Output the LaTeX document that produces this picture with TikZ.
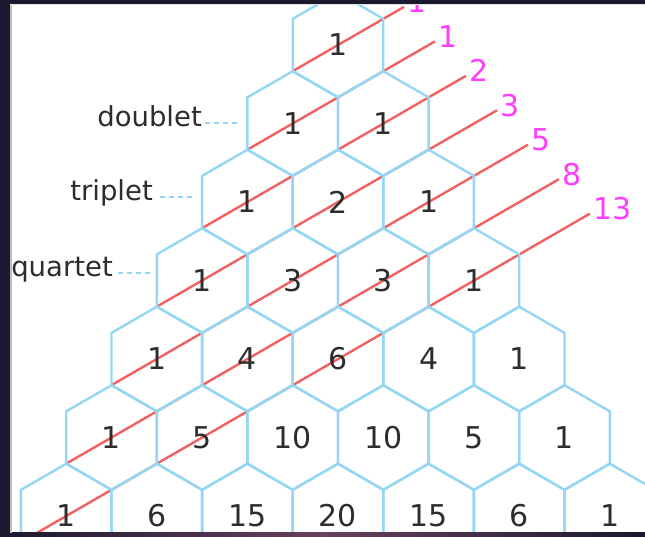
\documentclass[tikz,border=0pt]{standalone}
\usepackage{fontspec}
\setmainfont{DejaVu Sans}
\usetikzlibrary{shapes.geometric,calc,backgrounds}

\definecolor{hexblue}{RGB}{150,214,245}
\definecolor{diagred}{RGB}{242,96,96}
\definecolor{fibpink}{RGB}{255,60,255}
\definecolor{framenavy}{RGB}{26,25,46}
\definecolor{framemauve}{RGB}{105,65,95}
\definecolor{textgray}{RGB}{45,45,45}

\begin{document}
\begin{tikzpicture}[
    x=1pt, y=-1pt,
    hexcell/.style={
        regular polygon, regular polygon sides=6, shape border rotate=30,
        minimum size=104.6pt, inner sep=0pt, outer sep=0pt,
        draw=hexblue, line width=2.4pt, text=textgray,
        font=\fontsize{30}{36}\selectfont
    },
    fibline/.style={draw=diagred, line width=2.4pt},
    fibnum/.style={
        text=fibpink, font=\fontsize{30}{36}\selectfont,
        inner sep=0pt, anchor=west
    },
    multlabel/.style={
        text=textgray, font=\fontsize{27.5}{33}\selectfont,
        inner sep=0pt, text height=0.75em, text depth=0pt, anchor=east
    },
    leader/.style={draw=hexblue, line width=2pt, dash pattern=on 5pt off 4pt},
]
\useasboundingbox (0,0) rectangle (645,536);

% ── Pascal hexagons ──────────────────────────────────────────
\foreach \vals [count=\r from 0] in {{1},{1,1},{1,2,1},{1,3,3,1},{1,4,6,4,1},
        {1,5,10,10,5,1},{1,6,15,20,15,6,1}} {
    \foreach \v [count=\k from 0] in \vals {
        \node[hexcell] (h-\r-\k) at ({338+(\k-\r/2)*90.6}, {45+78.5*\r}) {\v};
    }
}

% ── Shallow diagonals + Fibonacci sums ───────────────────────
\begin{scope}[on background layer]
    \fill[white] (0,0) rectangle (645,536);
\end{scope}
\foreach \n/\fib in {0/1,1/1,2/2,3/3,4/5,5/8,6/13} {
    \pgfmathsetmacro\frac{1.2285+0.8422*\n}
    \coordinate (e\n) at ($(h-\n-0.210)!\frac!(h-\n-0.30)$);
    \node[fibnum] (f\n) at ($(e\n)+(3,-5)$) {\fib};
    \begin{scope}[on background layer]
        \draw[fibline] (h-\n-0.210) -- (e\n);
    \end{scope}
}

% ── Multiplet labels ─────────────────────────────────────────
\node[multlabel] (doublet) at (202,123) {doublet};
\node[multlabel] (triplet) at (153,197) {triplet};
\node[multlabel] (quartet) at (113,273) {quartet};
\draw[leader, shorten <=3pt, shorten >=10pt] (doublet.east) -- (doublet.east -| h-1-0.west);
\draw[leader, shorten <=7pt, shorten >=7pt] (triplet.east) -- (triplet.east -| h-2-0.west);
\draw[leader, shorten <=5pt, shorten >=7pt] (quartet.east) -- (quartet.east -| h-3-0.west);

% ── Window frame ─────────────────────────────────────────────
\fill[framenavy] (0,0) rectangle (10,536);
\fill[framenavy] (0,0) rectangle (645,3.5);
\shade[left color=framenavy, right color=framenavy, middle color=framemauve]
    (0,532.5) rectangle (645,536);
\draw[black!25, line width=2pt] (11,4.5) -- (11,532.5);
\draw[black!12, line width=1pt] (11,4) -- (645,4);
\end{tikzpicture}
\end{document}
